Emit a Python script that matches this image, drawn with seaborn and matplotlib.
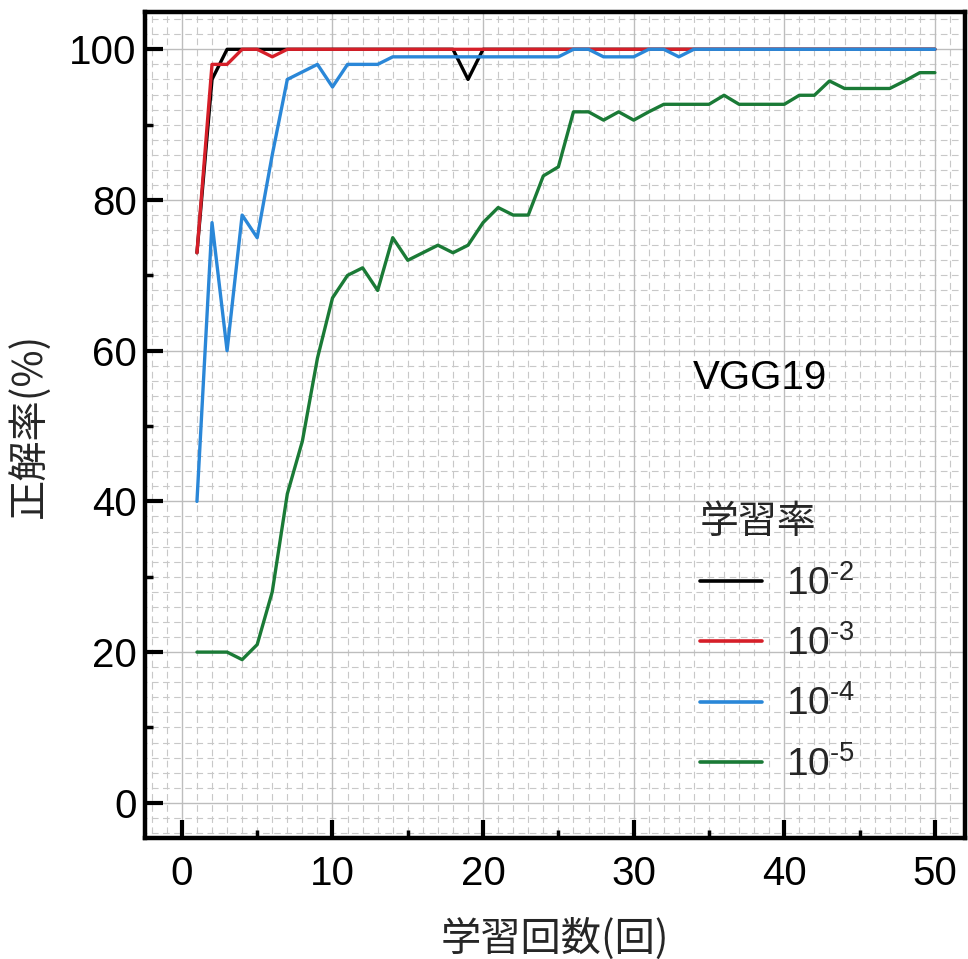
import matplotlib
matplotlib.use("Agg")
import numpy as np
import pandas as pd
import seaborn as sns
import matplotlib.pyplot as plt
from matplotlib.ticker import MultipleLocator

# Training epochs and accuracy (%) per learning rate
epochs = list(range(1, 51))

acc_lr_1e2 = [73, 96, 100, 100, 100, 100, 100, 100, 100, 100,
              100, 100, 100, 100, 100, 100, 100, 100, 96, 100,
              100, 100, 100, 100, 100, 100, 100, 100, 100, 100,
              100, 100, 100, 100, 100, 100, 100, 100, 100, 100,
              100, 100, 100, 100, 100, 100, 100, 100, 100, 100]

acc_lr_1e3 = [73, 98, 98, 100, 100, 99, 100, 100, 100, 100,
              100, 100, 100, 100, 100, 100, 100, 100, 100, 100,
              100, 100, 100, 100, 100, 100, 100, 100, 100, 100,
              100, 100, 100, 100, 100, 100, 100, 100, 100, 100,
              100, 100, 100, 100, 100, 100, 100, 100, 100, 100]

acc_lr_1e4 = [40, 77, 60, 78, 75, 86, 96, 97, 98, 95,
              98, 98, 98, 99, 99, 99, 99, 99, 99, 99,
              99, 99, 99, 99, 99, 100, 100, 99, 99, 99,
              100, 100, 99, 100, 100, 100, 100, 100, 100, 100,
              100, 100, 100, 100, 100, 100, 100, 100, 100, 100]

acc_lr_1e5 = [20, 20, 20, 19, 21, 28, 41, 48, 59, 67,
              70, 71, 68, 75, 72, 73, 74, 73, 74, 77,
              79, 78, 78, 83.2, 84.4, 91.7, 91.7, 90.6, 91.7, 90.6,
              91.7, 92.7, 92.7, 92.7, 92.7, 93.9, 92.7, 92.7, 92.7, 92.7,
              93.9, 93.9, 95.8, 94.8, 94.8, 94.8, 94.8, 95.8, 96.9, 96.9]

lr_labels = ["10$^{\u20102}$", "10$^{\u20103}$", "10$^{\u20104}$", "10$^{\u20105}$"]
line_colors = ["#000000", "#d61f29", "#2a87d8", "#1a7a36"]

x_ticks = [0, 10, 20, 30, 40, 50]
y_ticks = [0, 20, 40, 60, 80, 100]

series = [acc_lr_1e2, acc_lr_1e3, acc_lr_1e4, acc_lr_1e5]
df = pd.concat(
    [pd.DataFrame({"epoch": epochs, "acc": vals, "lr": lab})
     for vals, lab in zip(series, lr_labels)],
    ignore_index=True,
)

sns.set_theme(style="white")
plt.rcParams["font.family"] = ["Liberation Sans", "Noto Sans CJK JP", "DejaVu Sans"]
plt.rcParams["mathtext.fontset"] = "custom"
plt.rcParams["mathtext.rm"] = "Liberation Sans"
plt.rcParams["mathtext.it"] = "Liberation Sans:italic"
plt.rcParams["mathtext.bf"] = "Liberation Sans:bold"
plt.rcParams["mathtext.default"] = "regular"

W, H = 968, 959
fig = plt.figure(figsize=(W / 100, H / 100), dpi=100)
ax = fig.add_axes([145 / W, 1 - 838 / H, 820 / W, 826 / H])

sns.lineplot(data=df, x="epoch", y="acc", hue="lr", hue_order=lr_labels,
             palette=line_colors, linewidth=2.4, ax=ax, zorder=3)

ax.set_xlim(-2.45, 52.0)
ax.set_ylim(-4.67, 104.95)

# Grid: solid major lines, dashed fine lines in between
ax.set_axisbelow(True)
ax.grid(which="major", color="#bdbdbd", linewidth=1.0, linestyle="-")
fine_x = [v for v in range(-2, 53) if v % 10 != 0]
fine_y = [v for v in range(-4, 105, 2) if v % 20 != 0]
ax.vlines(fine_x, -10, 110, colors="#c8c8c8", linewidth=0.8,
          linestyles=(0, (6, 4)), zorder=0.5)
ax.hlines(fine_y, -5, 55, colors="#c8c8c8", linewidth=0.8,
          linestyles=(0, (6, 4)), zorder=0.5)

ax.set_xticks(x_ticks)
ax.set_yticks(y_ticks)
ax.xaxis.set_minor_locator(MultipleLocator(5))
ax.yaxis.set_minor_locator(MultipleLocator(10))
ax.tick_params(which="major", direction="in", length=13, width=3,
               color="black", labelsize=29, labelcolor="black")
ax.tick_params(which="minor", direction="in", length=5.5, width=2.5,
               color="black")
ax.tick_params(axis="x", which="major", pad=12)
ax.tick_params(axis="y", which="major", pad=6)
ax.tick_params(which="both", top=False, right=False, bottom=True, left=True)

for sp in ax.spines.values():
    sp.set_linewidth(3.2)
    sp.set_color("black")
    sp.set_visible(True)

cjk = {"family": ["Noto Sans CJK JP"], "size": 29}
ax.set_xlabel("学習回数(回)", fontdict=cjk, labelpad=18)
ax.set_ylabel("正解率(%)", fontdict=cjk, labelpad=14)

ax.text(0.668, 0.5436, "VGG19", transform=ax.transAxes, fontsize=29,
        ha="left", va="baseline", color="black")

handles, labels = ax.get_legend_handles_labels()
leg = ax.legend(handles, labels, title="学習率", loc="upper left",
                bbox_to_anchor=(0.677, 0.4065), frameon=False, fontsize=28,
                title_fontproperties={"family": ["Noto Sans CJK JP"], "size": 28},
                alignment="left", handlelength=1.6, handletextpad=0.6,
                labelspacing=0.58, borderpad=0, borderaxespad=0)
for line in leg.get_lines():
    line.set_linewidth(2.6)

fig.savefig("out.png", dpi=100)
